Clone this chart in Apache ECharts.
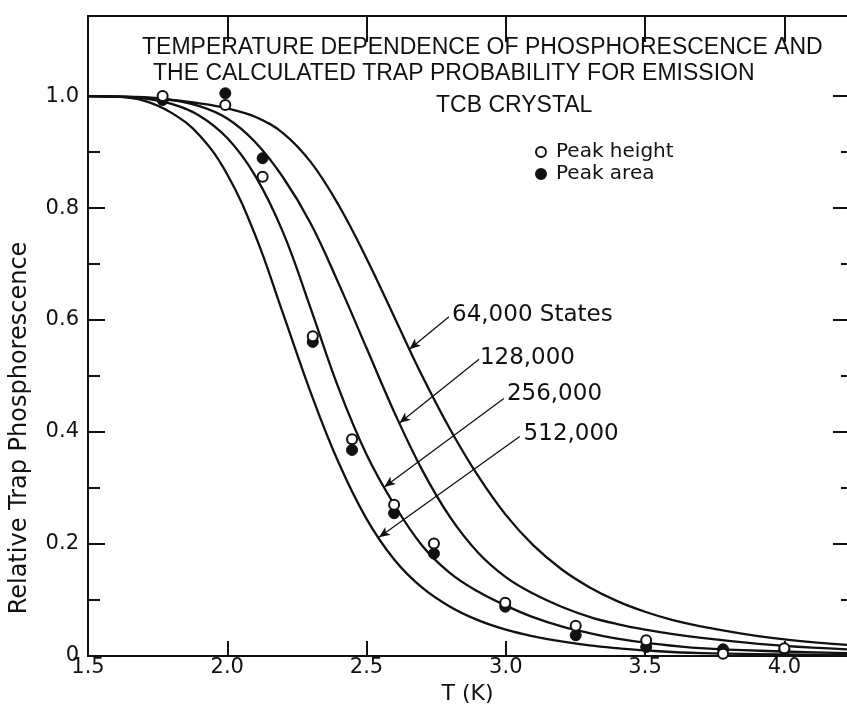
<!DOCTYPE html>
<html>
<head>
<meta charset="utf-8">
<script src="https://cdn.jsdelivr.net/npm/echarts@6/dist/echarts.min.js"></script>
<style>
html,body{margin:0;padding:0;background:#fff;}
#chart{width:847px;height:716px;}
</style>
</head>
<body>
<div id="chart"></div>
<script>
// ---- data ----
const T_64  = [1.5, 1.6, 1.7, 1.8, 1.9, 2.0, 2.1, 2.2, 2.3, 2.4, 2.5, 2.6, 2.7, 2.8, 2.9, 3.0, 3.1, 3.2, 3.3, 3.4, 3.5, 3.6, 3.7, 3.9, 4.05, 4.225];
const P_64  = [1.0, 0.999, 0.997, 0.993, 0.987, 0.978, 0.963, 0.934, 0.882, 0.805, 0.710, 0.605, 0.500, 0.405, 0.322, 0.252, 0.197, 0.155, 0.123, 0.098, 0.079, 0.064, 0.053, 0.036, 0.027, 0.020];
const T_128 = [1.5, 1.6, 1.7, 1.8, 1.9, 2.0, 2.1, 2.2, 2.3, 2.4, 2.5, 2.6, 2.7, 2.8, 2.9, 3.0, 3.1, 3.2, 3.3, 3.4, 3.5, 3.6, 3.8, 4.0, 4.225];
const P_128 = [1.0, 0.999, 0.998, 0.993, 0.982, 0.960, 0.918, 0.855, 0.772, 0.665, 0.550, 0.435, 0.332, 0.248, 0.185, 0.141, 0.111, 0.088, 0.070, 0.057, 0.047, 0.039, 0.027, 0.018, 0.012];
const T_256 = [1.5, 1.6, 1.7, 1.8, 1.9, 2.0, 2.1, 2.2, 2.3, 2.4, 2.5, 2.6, 2.7, 2.8, 2.9, 3.0, 3.1, 3.2, 3.3, 3.4, 3.5, 3.7, 4.0, 4.225];
const P_256 = [1.0, 0.999, 0.996, 0.986, 0.965, 0.925, 0.858, 0.757, 0.620, 0.478, 0.360, 0.270, 0.197, 0.148, 0.115, 0.090, 0.069, 0.053, 0.041, 0.031, 0.024, 0.014, 0.008, 0.005];
const T_512 = [1.5, 1.6, 1.7, 1.8, 1.9, 2.0, 2.1, 2.2, 2.3, 2.4, 2.5, 2.6, 2.7, 2.8, 2.9, 3.0, 3.1, 3.2, 3.3, 3.4, 3.5, 3.7, 4.0, 4.225];
const P_512 = [1.0, 0.999, 0.992, 0.970, 0.930, 0.860, 0.752, 0.612, 0.470, 0.345, 0.245, 0.172, 0.122, 0.088, 0.064, 0.047, 0.035, 0.026, 0.019, 0.014, 0.010, 0.005, 0.003, 0.002];

const T_points    = [1.768, 1.993, 2.127, 2.307, 2.448, 2.599, 2.742, 2.998, 3.251, 3.504, 3.78, 4.0];
const peakHeight  = [1.0, 0.984, 0.856, 0.571, 0.387, 0.270, 0.201, 0.095, 0.054, 0.028, 0.004, 0.014];
const peakArea    = [0.993, 1.005, 0.889, 0.561, 0.368, 0.255, 0.183, 0.088, 0.037, 0.016, 0.012, 0.011];

const curveNames  = ['64,000 States', '128,000', '256,000', '512,000'];
const labelT      = [2.807, 2.907, 3.004, 3.064];
const labelP      = [0.609, 0.533, 0.468, 0.397];
const arrowFromT  = [2.796, 2.904, 2.993, 3.05];
const arrowFromP  = [0.606, 0.530, 0.460, 0.392];
const arrowToT    = [2.654, 2.618, 2.564, 2.545];
const arrowToP    = [0.548, 0.416, 0.302, 0.212];

const xLabelTicks = [1.5, 2.0, 2.5, 3.0, 3.5, 4.0];
const xMajorTicks = [2.0, 2.5, 3.0, 3.5, 4.0];
const yLabelTicks = [0, 0.2, 0.4, 0.6, 0.8, 1.0];
const yMajorTicks = [0.2, 0.4, 0.6, 0.8, 1.0];
const yMinorTicks = [0.1, 0.3, 0.5, 0.7, 0.9];

const titleLines  = ['TEMPERATURE DEPENDENCE OF PHOSPHORESCENCE AND', 'THE CALCULATED TRAP PROBABILITY FOR EMISSION', 'TCB CRYSTAL'];

// ---- chart ----
const FONT_T = 'Liberation Sans';
const FONT = 'DejaVu Sans';
const INK = '#111';
const curves = [[T_64, P_64], [T_128, P_128], [T_256, P_256], [T_512, P_512]];

const zip = (a, b) => a.map((v, i) => [v, b[i]]);

const lineSeries = curves.map((c, i) => ({
  type: 'line',
  name: curveNames[i],
  data: zip(c[0], c[1]),
  smooth: 0.4,
  symbol: 'none',
  silent: true,
  lineStyle: { color: INK, width: 2.3 },
  markLine: {
    silent: true,
    symbol: ['none', 'arrow'],
    symbolSize: [7, 11],
    lineStyle: { color: INK, width: 1.3, type: 'solid' },
    label: { show: false },
    data: [[{ coord: [arrowFromT[i], arrowFromP[i]] }, { coord: [arrowToT[i], arrowToP[i]] }]]
  }
}));

const yBase = {
  type: 'value', min: 0, max: 1.143,
  splitLine: { show: false },
};

const titleStyle = { fontFamily: FONT_T, fontSize: 23, fontWeight: 'normal', color: INK };

const option = {
  animation: false,
  backgroundColor: '#fff',
  textStyle: { fontFamily: FONT },
  title: [
    { text: titleLines[0], left: 142, top: 36, padding: 0, textStyle: titleStyle },
    { text: titleLines[1], left: 153, top: 62, padding: 0, textStyle: titleStyle },
    { text: titleLines[2], left: 436, top: 94, padding: 0, textStyle: titleStyle }
  ],
  legend: {
    orient: 'vertical', left: 535, top: 142, padding: 0,
    data: ['Peak height', 'Peak area'],
    icon: 'circle', itemWidth: 10, itemHeight: 10, itemGap: 2,
    textStyle: { fontFamily: FONT, fontSize: 20, color: INK, padding: [0, 0, 0, 5] },
    selectedMode: false
  },
  grid: { left: 84, right: 0, top: 16, bottom: 60, containLabel: false },
  xAxis: [
    {
      type: 'value', min: 1.5, max: 4.225, position: 'bottom',
      name: 'T (K)', nameLocation: 'middle', nameGap: 25,
      nameTextStyle: { fontFamily: FONT, fontSize: 22, color: INK },
      axisLine: { show: true, onZero: false, lineStyle: { color: INK, width: 2 } },
      axisTick: { show: true, inside: true, length: 15, customValues: xMajorTicks, lineStyle: { color: INK, width: 2 } },
      axisLabel: { show: true, customValues: xLabelTicks, margin: 1, fontFamily: FONT, fontSize: 21, color: INK,
                   formatter: v => v.toFixed(1) },
      splitLine: { show: false }
    },
    {
      type: 'value', min: 1.5, max: 4.225, position: 'top',
      axisLine: { show: true, onZero: false, lineStyle: { color: INK, width: 2 } },
      axisTick: { show: true, inside: true, length: 26, customValues: xMajorTicks, lineStyle: { color: INK, width: 2 } },
      axisLabel: { show: false },
      splitLine: { show: false }
    }
  ],
  yAxis: [
    Object.assign({}, yBase, {
      position: 'left',
      name: 'Relative Trap Phosphorescence', nameLocation: 'middle', nameGap: 56,
      nameTextStyle: { fontFamily: FONT, fontSize: 24, color: INK, padding: [0, 184, 0, 0] },
      axisLine: { show: true, onZero: false, lineStyle: { color: INK, width: 2 } },
      axisTick: { show: true, inside: true, length: 17, customValues: yMajorTicks, lineStyle: { color: INK, width: 2 } },
      axisLabel: { show: true, customValues: yLabelTicks, margin: 9, fontFamily: FONT, fontSize: 21, color: INK,
                   formatter: v => (v === 0 ? '0' : v.toFixed(1)) }
    }),
    Object.assign({}, yBase, {
      position: 'left',
      axisLine: { show: false, onZero: false },
      axisTick: { show: true, inside: true, length: 12, customValues: yMinorTicks, lineStyle: { color: INK, width: 2 } },
      axisLabel: { show: false }
    }),
    Object.assign({}, yBase, {
      position: 'right',
      axisLine: { show: false, onZero: false },
      axisTick: { show: true, inside: true, length: 14, customValues: yMajorTicks, lineStyle: { color: INK, width: 2 } },
      axisLabel: { show: false }
    }),
    Object.assign({}, yBase, {
      position: 'right',
      axisLine: { show: false, onZero: false },
      axisTick: { show: true, inside: true, length: 6, customValues: yMinorTicks, lineStyle: { color: INK, width: 2 } },
      axisLabel: { show: false }
    })
  ],
  series: lineSeries.concat([
    {
      type: 'scatter', name: 'Peak area',
      data: zip(T_points, peakArea),
      symbol: 'circle', symbolSize: 11,
      itemStyle: { color: INK, borderColor: INK, borderWidth: 1, opacity: 1 },
      z: 3
    },
    {
      type: 'scatter', name: 'Peak height',
      data: zip(T_points, peakHeight),
      symbol: 'circle', symbolSize: 10,
      itemStyle: { color: '#fff', borderColor: INK, borderWidth: 2, opacity: 1 },
      z: 4
    },
    {
      type: 'scatter', name: 'curve labels',
      data: labelT.map((t, i) => ({ value: [t, labelP[i]], name: curveNames[i] })),
      symbolSize: 0, silent: true,
      itemStyle: { opacity: 1 },
      label: { show: true, position: 'right', distance: 0, formatter: p => p.name,
               fontFamily: FONT, fontSize: 23, color: INK, opacity: 1 },
      z: 5
    }
  ])
};

const chart = echarts.init(document.getElementById('chart'), null, { renderer: 'canvas' });
chart.setOption(option);
</script>
</body>
</html>
